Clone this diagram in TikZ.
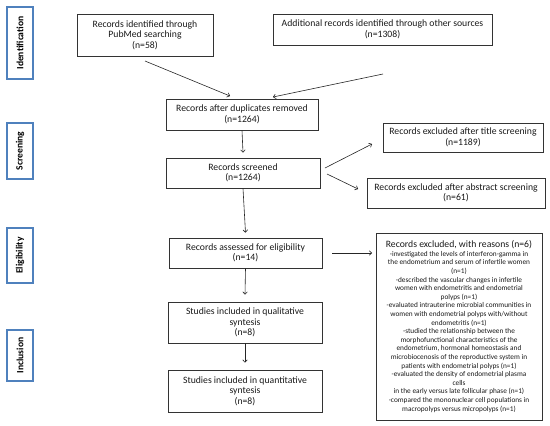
\documentclass[tikz,border=0pt]{standalone}
\usepackage{fontspec}
\setmainfont{Carlito}
\usetikzlibrary{arrows.meta}
\definecolor{phaseblue}{RGB}{79,129,189}
\begin{document}
\begin{tikzpicture}[x=1pt,y=-1pt,
  box/.style={draw=black!80, line width=0.8pt, align=center, inner sep=1pt,
    font=\fontsize{9.7}{10.4}\selectfont, text=black!90},
  phase/.style={draw=phaseblue, line width=2pt, rotate=90, inner sep=1pt,
    font=\bfseries\fontsize{9.6}{10}\selectfont, minimum height=26pt},
  arr/.style={-{To[length=3pt,width=5pt]}, line width=0.6pt, draw=black!85}]
\useasboundingbox (0,0) rectangle (550,426);

% phase labels
\node[phase, minimum width=72pt] (pid) at (20,43) {Identification};
\node[phase, minimum width=56pt] (psc) at (20,151) {Screening};
\node[phase, minimum width=55pt] (pel) at (20,255.5) {Eligibility};
\node[phase, minimum width=51pt] (pin) at (20,355.5) {Inclusion};

% boxes
\node[box, minimum width=136pt, minimum height=42pt] (b1) at (145,35) {Records identified through\\PubMed searching\\(n=58)};
\node[box, minimum width=219pt, minimum height=31pt] (b2) at (382.5,29.5) {Additional records identified through other sources\\(n=1308)};
\node[box, minimum width=152pt, minimum height=31pt] (b3) at (242,114.5) {Records after duplicates removed\\(n=1264)};
\node[box, minimum width=154pt, minimum height=30pt] (b4) at (243,173) {Records screened\\(n=1264)};
\node[box, minimum width=160pt, minimum height=29pt] (b5) at (463,137.5) {Records excluded after title screening\\(n=1189)};
\node[box, minimum width=178pt, minimum height=30pt] (b6) at (456,193) {Records excluded after abstract screening\\(n=61)};
\node[box, minimum width=153pt, minimum height=30pt] (b7) at (245.5,253) {Records assessed for eligibility\\(n=14)};
\node[box, minimum width=154pt, minimum height=41pt] (b8) at (245,322.5) {Studies included in qualitative\\syntesis\\(n=8)};
\node[box, minimum width=154pt, minimum height=42pt] (b9) at (245,391) {Studies included in quantitative\\syntesis\\(n=8)};
\node[box, minimum width=166pt, minimum height=187pt, font=\fontsize{7.3}{8.6}\selectfont] (ex) at (459,326.5)
 {{\fontsize{9.7}{10}\selectfont Records excluded, with reasons (n=6)}\\
  -investigated the levels of interferon-gamma in\\
  the endometrium and serum of infertile women\\
  (n=1)\\
  -described the vascular changes in infertile\\
  women with endometritis and endometrial\\
  polyps (n=1)\\
  -evaluated intrauterine microbial communities in\\
  women with endometrial polyps with/without\\
  endometritis (n=1)\\
  -studied the relationship between the\\
  morphofunctional characteristics of the\\
  endometrium, hormonal homeostasis and\\
  microbiocenosis of the reproductive system in\\
  patients with endometrial polyps (n=1)\\
  -evaluated the density of endometrial plasma\\
  cells\\
  in the early versus late follicular phase (n=1)\\
  -compared the mononuclear cell populations in\\
  macropolyps versus micropolyps (n=1)};

% connector end points
\coordinate (a1s) at (145,61);
\coordinate (a1e) at (230,96);
\coordinate (a2s) at (383,74);
\coordinate (a2e) at (273,97);
\coordinate (a5s) at (325,168);
\coordinate (a5e) at (372,144);
\coordinate (a6s) at (327,174);
\coordinate (a6e) at (358,189);
\coordinate (axs) at (332,253);
\coordinate (axe) at (372,253);

\draw[arr] (a1s) -- (a1e);
\draw[arr] (a2s) -- (a2e);
\draw[arr] (b3.south) -- ([yshift=5pt]b4.north);
\draw[arr] (b4.south) -- ([yshift=5pt]b7.north);
\draw[arr] (a5s) -- (a5e);
\draw[arr] (a6s) -- (a6e);
\draw[arr] (axs) -- (axe);
\draw[arr] (b7.south) -- ([yshift=7pt]b8.north);
\draw[arr] (b8.south) -- ([yshift=7pt]b9.north);
\end{tikzpicture}
\end{document}
